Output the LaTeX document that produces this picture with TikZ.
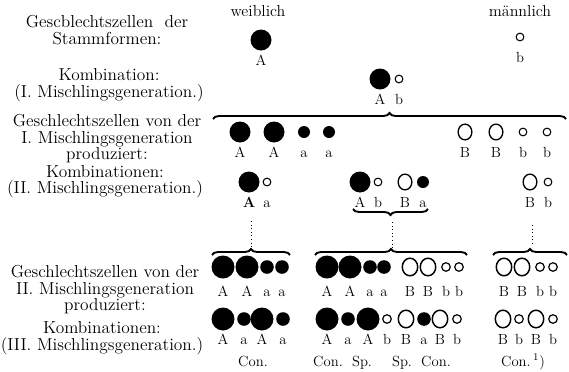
\documentclass[tikz,border=0pt]{standalone}
\usetikzlibrary{decorations.pathreplacing,shapes.geometric}
\newcommand\gc[6]{\node[#1] (#2) at (#3,#4) {}; \node[lab] (#2t) at (#3,#5) {#6};}
\begin{document}
\begin{tikzpicture}[x=0.75pt,y=-0.75pt,
 BB/.style={circle,fill=black,inner sep=0pt,minimum size=15.75pt},
 bb/.style={circle,fill=black,inner sep=0pt,minimum size=9pt},
 BO/.style={ellipse,draw,line width=1pt,inner sep=0pt,minimum width=10.3pt,minimum height=11.8pt},
 bo/.style={circle,draw,line width=0.8pt,inner sep=0pt,minimum size=5.8pt},
 BBL/.style={circle,fill=black,inner sep=0pt,minimum size=17.25pt},
 bbL/.style={circle,fill=black,inner sep=0pt,minimum size=10.2pt},
 BOL/.style={ellipse,draw,line width=1.1pt,inner sep=0pt,minimum width=11.6pt,minimum height=13.2pt},
 boL/.style={circle,draw,line width=0.9pt,inner sep=0pt,minimum size=6.4pt},
 lab/.style={inner sep=0pt,anchor=base,font=\fontsize{11}{13}\selectfont},
 lt/.style={align=center,inner sep=0pt,font=\fontsize{13}{12.4}\selectfont},
 hd/.style={inner sep=0pt,anchor=base,font=\fontsize{12}{14}\selectfont},
 brc/.style={decorate,decoration={brace,amplitude=4.5pt},line width=1.4pt},
 dts/.style={dotted,line width=0.7pt}]
\useasboundingbox (0,0) rectangle (569,372);
% left texts
\node[lt] (t1) at (107,30) {Gescblechtszellen \ der\\Stammformen:};
\node[lt] (t2) at (109,85) {Kombination:\\(I. Mischlingsgeneration.)};
\node[lt] (t3) at (107,139) {Geschlechtszellen von der\\I. Mischlingsgeneration\\produziert:};
\node[lt] (t4) at (105,181.5) {Kombinationen:\\(II. Mischlingsgeneration.)};
\node[lt] (t5) at (105,290) {Geschlechtszellen von der\\II. Mischlingsgeneration\\produziert:};
\node[lt] (t6) at (102,338) {Kombinationen:\\(III. Mischlingsgeneration.)};
% headers
\node[hd] (hw) at (258,16) {weiblich};
\node[hd] (hm) at (520,16) {männlich};
% row 1
\gc{BB}{p1}{261}{40}{65}{A}
\gc{bo}{p2}{520}{37}{62}{b}
% row 2
\gc{BB}{k1}{380}{79}{104}{A}
\gc{bo}{k2}{399}{79}{104}{b}
% brace 1
\coordinate (b1l) at (213,119);
\coordinate (b1r) at (566,119);
\draw[brc] (b1l) -- (b1r);
% row 3
\gc{BB}{g1}{240}{132}{157}{A}
\gc{BB}{g2}{274}{132}{157}{A}
\gc{bb}{g3}{304}{132}{157}{a}
\gc{bb}{g4}{329}{132}{157}{a}
\gc{BO}{g5}{465}{132}{157}{B}
\gc{BO}{g6}{496}{132}{157}{B}
\gc{bo}{g7}{523}{132}{157}{b}
\gc{bo}{g8}{547}{132}{157}{b}
% row 4
\gc{BB}{m1}{249}{182}{207}{\textbf{A}}
\gc{bo}{m2}{267}{182}{207}{a}
\gc{BB}{m3}{360}{182}{207}{A}
\gc{bo}{m4}{378}{182}{207}{b}
\gc{BO}{m5}{405}{182}{207}{B}
\gc{bb}{m6}{423}{182}{207}{a}
\gc{BO}{m7}{530}{182}{207}{B}
\gc{bo}{m8}{548}{182}{207}{b}
% brace under A b B a
\coordinate (b2l) at (353,209);
\coordinate (b2r) at (428,209);
\draw[brc] (b2r) -- (b2l);
% dotted lines and row 5 braces
\coordinate (d1a) at (251,221); \coordinate (d1b) at (251,248);
\coordinate (d2a) at (392,222); \coordinate (d2b) at (392,248);
\coordinate (d3a) at (532,225); \coordinate (d3b) at (532,244);
\draw[dts] (d1a) -- (d1b);
\draw[dts] (d2a) -- (d2b);
\draw[dts] (d3a) -- (d3b);
\coordinate (b3l) at (212,255); \coordinate (b3r) at (290,255);
\coordinate (b4l) at (315,255); \coordinate (b4r) at (467,255);
\coordinate (b5l) at (493,255); \coordinate (b5r) at (567,255);
\draw[brc] (b3l) -- (b3r);
\draw[brc] (b4l) -- (b4r);
\draw[brc] (b5l) -- (b5r);
% row 5
\gc{BBL}{n1}{223}{267}{296}{A}
\gc{BBL}{n2}{247}{267}{296}{A}
\gc{bbL}{n3}{267}{267}{296}{a}
\gc{bbL}{n4}{282}{267}{296}{a}
\gc{BBL}{n5}{327}{267}{296}{A}
\gc{BBL}{n6}{350}{267}{296}{A}
\gc{bbL}{n7}{370}{267}{296}{a}
\gc{bbL}{n8}{384}{267}{296}{a}
\gc{BOL}{n9}{410}{267}{296}{B}
\gc{BOL}{n10}{428}{267}{296}{B}
\gc{boL}{n11}{446}{267}{296}{b}
\gc{boL}{n12}{459}{267}{296}{b}
\gc{BOL}{n13}{504}{267}{296}{B}
\gc{BOL}{n14}{522}{267}{296}{B}
\gc{boL}{n15}{540}{267}{296}{b}
\gc{boL}{n16}{553}{267}{296}{b}
% row 6
\gc{BBL}{q1}{223}{319}{344}{A}
\gc{bbL}{q2}{244}{319}{344}{a}
\gc{BBL}{q3}{262}{319}{344}{A}
\gc{bbL}{q4}{283}{319}{344}{a}
\gc{BBL}{q5}{327}{319}{344}{A}
\gc{bbL}{q6}{348}{319}{344}{a}
\gc{BBL}{q7}{368}{319}{344}{A}
\gc{boL}{q8}{387}{319}{344}{b}
\gc{BOL}{q9}{406}{319}{344}{B}
\gc{bbL}{q10}{424}{319}{344}{a}
\gc{BOL}{q11}{440}{319}{344}{B}
\gc{boL}{q12}{457}{319}{344}{b}
\gc{BOL}{q13}{503}{319}{344}{B}
\gc{boL}{q14}{519}{319}{344}{b}
\gc{BOL}{q15}{536}{319}{344}{B}
\gc{boL}{q16}{553}{319}{344}{b}
% Con./Sp.
\node[lab] (c1) at (253,366) {Con.};
\node[lab] (c2) at (328,366) {Con.};
\node[lab] (c3) at (362,366) {Sp.};
\node[lab] (c4) at (402,366) {Sp.};
\node[lab] (c5) at (436,366) {Con.};
\node[lab] (c6) at (523,366) {Con.\,\textsuperscript{1})};
\end{tikzpicture}
\end{document}
